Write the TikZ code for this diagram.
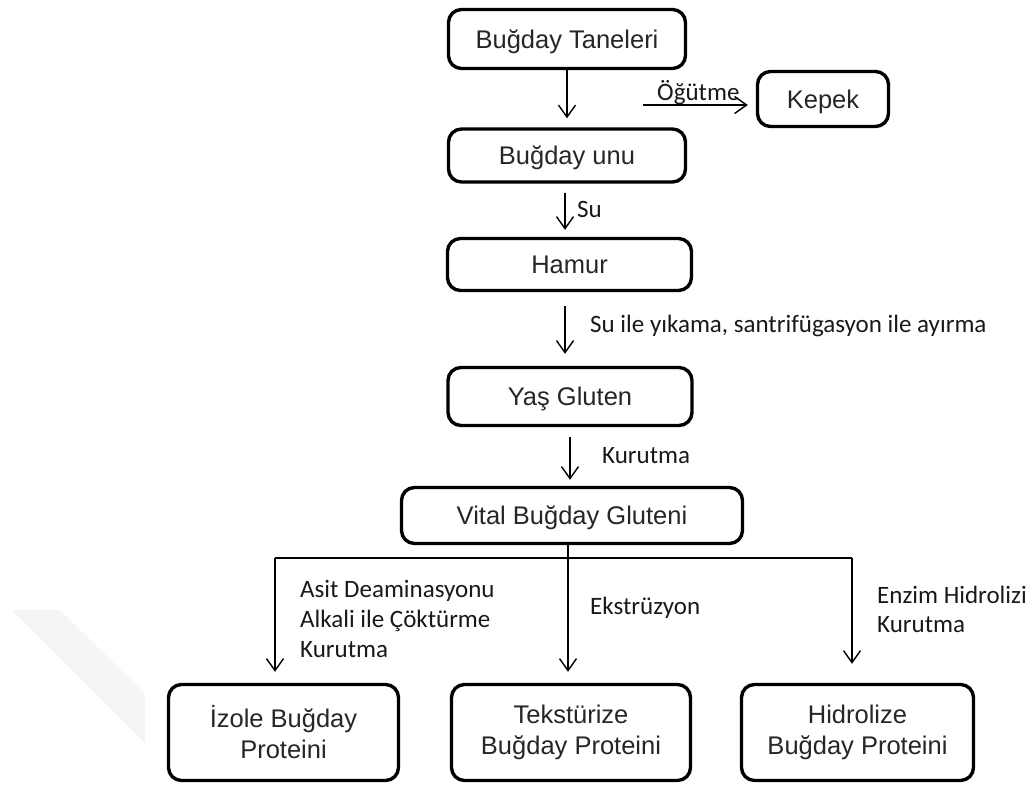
\documentclass[tikz,border=0pt]{standalone}
\usepackage{fontspec}
\setmainfont{Liberation Sans}
\newfontfamily\lblfont{Carlito}
\usetikzlibrary{arrows.meta}
\begin{document}
\begin{tikzpicture}[x=1pt,y=-1pt,
  box/.style={draw=black, line width=3.4pt, rounded corners=13pt, inner sep=0pt,
    font=\fontsize{25.5}{31}\selectfont, text=black!85, align=center},
  one/.style={text height=18pt, text depth=0pt},
  arr/.style={line width=1.4pt, -{Straight Barb[length=12pt,width=17pt,line width=1.4pt]}},
  lnk/.style={line width=1.4pt},
  lbl/.style={font=\lblfont\fontsize{25}{30}\selectfont, inner sep=0pt, anchor=base west, text=black!90}]
\useasboundingbox (0,0) rectangle (1030,787);
\fill[white] (0,0) rectangle (1030,787);
% faint watermark band
\fill[gray!8] (12,610) -- (60,610) -- (145,694) -- (145,743) -- cycle;

% boxes
\node[box,one,minimum width=237pt,minimum height=59pt] (tan) at (567,39) {Buğday Taneleri};
\node[box,one,minimum width=131pt,minimum height=55pt] (kep) at (823,99) {Kepek};
\node[box,one,minimum width=237pt,minimum height=53pt] (unu) at (567,155.5) {Buğday unu};
\node[box,one,minimum width=244pt,minimum height=52pt] (ham) at (569.5,264.5) {Hamur};
\node[box,one,minimum width=244pt,minimum height=58pt] (yas) at (570,396.5) {Yaş Gluten};
\node[box,one,minimum width=341pt,minimum height=56pt] (vit) at (572,515.5) {Vital Buğday Gluteni};
\node[box,minimum width=230pt,minimum height=96pt] (izo) at (283.5,732.5) {İzole Buğday\\Proteini};
\node[box,minimum width=239pt,minimum height=96pt] (tek) at (571,732.5) {Tekstürize\\Buğday Proteini};
\node[box,minimum width=232pt,minimum height=96pt] (hid) at (857.5,732.5) {Hidrolize\\Buğday Proteini};

% main chain
\draw[arr, shorten >=9pt] (tan.south) -- (unu.north);
\draw[arr, shorten <=9pt, shorten >=7pt] ([xshift=-2pt]unu.south) -- ([xshift=-4.5pt]ham.north);
\draw[arr, shorten <=14pt, shorten >=12pt] ([xshift=-4.5pt]ham.south) -- ([xshift=-5pt]yas.north);
\draw[arr, shorten <=10pt, shorten >=6pt] (yas.south) -- ([xshift=-2pt]vit.north);

% side branch
\coordinate (og) at (643,105);
\draw[arr, shorten >=8pt] (og) -- (og -| kep.west);

% bottom branches
\coordinate (bj) at (568,558);
\coordinate (bl) at (275,558);
\coordinate (br) at (852,558);
\draw[arr, shorten >=11pt] (vit.south -| bj) -- (tek.north -| bj);
\draw[lnk] (bl) -- (br);
\draw[arr, shorten >=11pt] (bl) -- (izo.north -| bl);
\draw[arr, shorten >=19pt] (br) -- (hid.north -| br);

% labels
\node[lbl] (log) at (657,100) {Öğütme};
\node[lbl] (lsu) at (577,217) {Su};
\node[lbl] (lyik) at (590,332) {Su ile yıkama, santrifügasyon ile ayırma};
\node[lbl] (lkur) at (602,463) {Kurutma};
\node[lbl] (las1) at (300,597) {Asit Deaminasyonu};
\node[lbl] (las2) at (300,627) {Alkali ile Çöktürme};
\node[lbl] (las3) at (300,657) {Kurutma};
\node[lbl] (lek) at (590,614) {Ekstrüzyon};
\node[lbl] (len1) at (877,603) {Enzim Hidrolizi};
\node[lbl] (len2) at (877,632) {Kurutma};
\end{tikzpicture}
\end{document}
